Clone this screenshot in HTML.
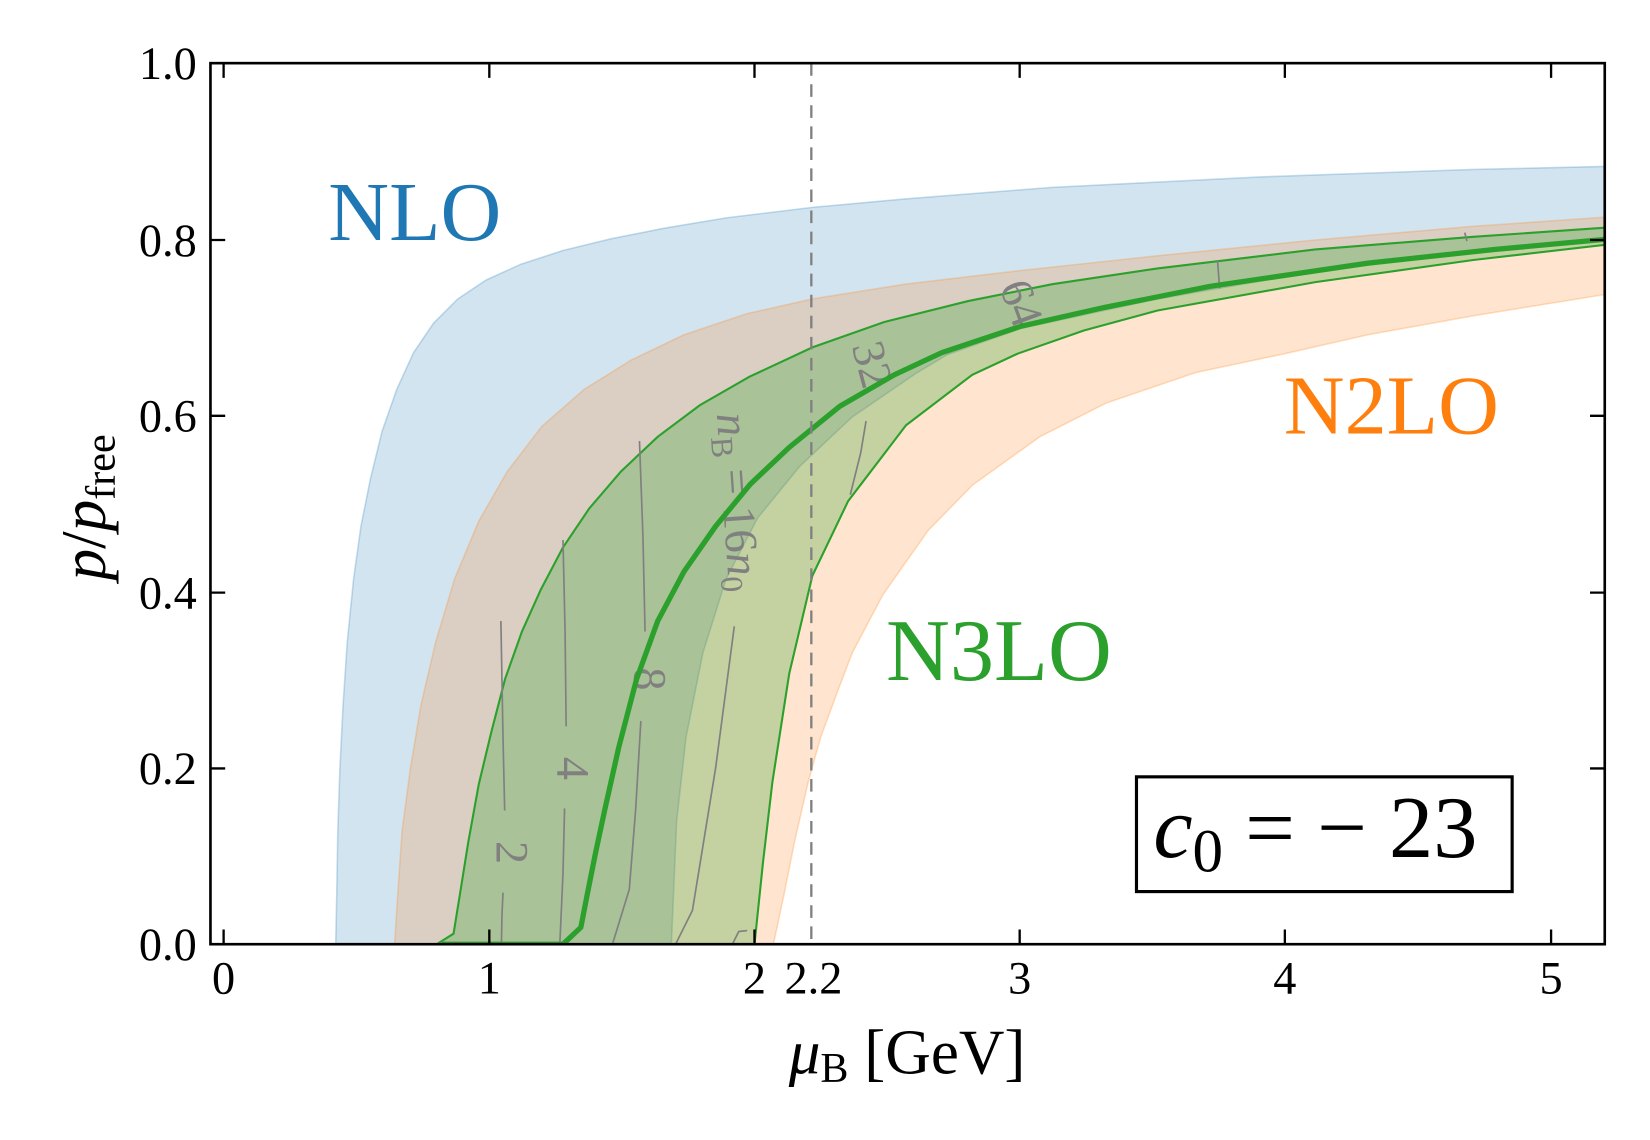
<!DOCTYPE html>
<html><head><meta charset="utf-8"><style>
html,body{margin:0;padding:0;background:#fff;}
svg{display:block;}
text{font-family:"Liberation Serif","DejaVu Serif",serif;}
</style></head><body>
<svg width="1650" height="1140" viewBox="0 0 1568 1083" preserveAspectRatio="none" xmlns="http://www.w3.org/2000/svg">
<rect x="0" y="0" width="1568" height="1083" fill="#fff"/>
<defs><clipPath id="c"><rect x="200" y="60" width="1325" height="837"/></clipPath></defs>
<g clip-path="url(#c)">
<!-- blue NLO -->
<path d="M319,897 L320,850 L321,790 L323,730 L326,670 L330,610 L336,550 L343,500 L352,455 L363,410 L377,370 L393,335 L412,307 L435,284 L462,266 L495,251 L535,238 L580,227 L630,217 L690,207 L772,197 L860,189 L1000,178 L1200,168 L1400,161 L1530,158 L1530,228 L1400,240 L1250,258 L1100,284 L970,312 L900,337 L870,355 L810,396 L760,443 L720,492 L690,550 L668,620 L652,700 L643,780 L638,897 Z" fill="rgba(31,119,180,0.2)" stroke="rgba(31,119,180,0.25)" stroke-width="1.5"/>
<!-- orange N2LO -->
<path d="M375,897 L378,850 L382,790 L390,730 L400,670 L414,610 L432,550 L455,495 L482,448 L515,405 L555,370 L600,342 L650,318 L710,298 L772,284 L860,270 L970,257 L1100,243 L1250,228 L1400,215 L1530,206 L1530,279 L1400,300 L1300,318 L1221,336 L1136,354 L1051,383 L988,415 L924,461 L882,504 L839,565 L810,620 L797,654 L780,700 L768,743 L755,800 L745,850 L735,897 Z" fill="rgba(255,127,14,0.2)" stroke="rgba(255,127,14,0.25)" stroke-width="1.5"/>
<!-- green N3LO -->
<path d="M415,897 L431,887 L437,850 L445,800 L455,745 L467,695 L480,645 L496,600 L514,560 L535,520 L560,483 L590,448 L625,415 L665,385 L712,358 L772,330 L840,306 L920,286 L1000,270 L1100,255 L1250,237 L1400,225 L1530,216 L1530,232 L1400,247 L1250,268 L1100,295 L1030,314 L967,336 L924,356 L861,404 L806,476 L772,547 L750,640 L734,743 L725,820 L717,897 Z" fill="rgba(44,160,44,0.28)" stroke="#2ca02c" stroke-width="2"/>
<!-- contours -->
<g fill="none" stroke="#808080" stroke-width="1.6">
<path d="M476,590 L478,700 L479.6,770"/><path d="M478,848 L477,870 L476.5,897"/>
<path d="M535,513 L537,600 L538,690"/><path d="M536.5,768 L535,830 L532,897"/>
<path d="M607.7,419 L611,510 L613,600"/><path d="M609,685 L604,770 L598,845 L582,897"/>
<path d="M697.8,595 L680,730 L658,865 L642,897"/>
<path d="M823,400 L818,430 L808,470"/>
<path d="M696,897 L702,885 L710,884"/>
<path d="M1157,247 L1159,274"/>
<path d="M1392,221 L1394,229"/>
</g>
<g fill="#808080" font-size="44">
<text transform="translate(472,810) rotate(90)" text-anchor="middle">2</text>
<text transform="translate(530,730) rotate(90)" text-anchor="middle">4</text>
<text transform="translate(603,645) rotate(90)" text-anchor="middle">8</text>
<text transform="translate(687,478) rotate(86)" text-anchor="middle"><tspan font-style="italic">n</tspan><tspan font-size="30" dy="7">B</tspan><tspan dy="-7"> = 16</tspan><tspan font-style="italic">n</tspan><tspan font-size="30" dy="7">0</tspan></text>
<text transform="translate(815,350) rotate(75)" text-anchor="middle">32</text>
<text transform="translate(957,293) rotate(70)" text-anchor="middle">64</text>
</g>
<!-- central line -->
<path d="M420,897 L535,897 L552,881 L558,850 L566,810 L575,768 L588,710 L605,645 L625,590 L650,543 L680,500 L713,460 L750,425 L798,386 L850,356 L895,335 L970,310 L1050,292 L1150,272 L1300,250 L1420,237 L1530,227" fill="none" stroke="#2ca02c" stroke-width="5" stroke-linejoin="round"/>
<!-- dashed -->
<line x1="771" y1="60" x2="771" y2="897" stroke="#808080" stroke-width="2.2" stroke-dasharray="12,8"/>
</g>
<!-- labels -->
<text x="312" y="228" font-size="80" fill="#1f77b4">NLO</text>
<text x="1220" y="412" font-size="80" fill="#ff7f0e">N2LO</text>
<text x="842" y="646" font-size="84" fill="#2ca02c">N3LO</text>
<rect x="1080" y="738" width="357" height="109" fill="#fff" stroke="#000" stroke-width="3"/>
<text x="1096" y="814" font-size="84"><tspan font-style="italic">c</tspan><tspan font-size="58" dy="14">0</tspan><tspan dy="-14"> = − 23</tspan></text>
<!-- axes -->
<rect x="200" y="60" width="1325" height="837" fill="none" stroke="#000" stroke-width="2.5"/>
<g stroke="#000" stroke-width="2.2">
<path d="M212.5,897 v-14 M465,897 v-14 M717,897 v-14 M969,897 v-14 M1221,897 v-14 M1474,897 v-14"/>
<path d="M212.5,60 v14 M465,60 v14 M717,60 v14 M969,60 v14 M1221,60 v14 M1474,60 v14"/>
<path d="M200,228 h14 M200,395 h14 M200,563 h14 M200,730 h14"/>
<path d="M1525,228 h-14 M1525,395 h-14 M1525,563 h-14 M1525,730 h-14"/>
</g>
<g font-size="44" text-anchor="end">
<text x="187" y="75">1.0</text>
<text x="187" y="243">0.8</text>
<text x="187" y="410">0.6</text>
<text x="187" y="578">0.4</text>
<text x="187" y="745">0.2</text>
<text x="187" y="912">0.0</text>
</g>
<g font-size="44" text-anchor="middle">
<text x="212.5" y="944">0</text>
<text x="465" y="944">1</text>
<text x="717" y="944">2</text>
<text x="773" y="944">2.2</text>
<text x="969" y="944">3</text>
<text x="1221" y="944">4</text>
<text x="1474" y="944">5</text>
</g>
<text x="862" y="1020" font-size="60" text-anchor="middle"><tspan font-style="italic">μ</tspan><tspan font-size="40" dy="8">B</tspan><tspan dy="-8"> [GeV]</tspan></text>
<text transform="translate(100,482) rotate(-90)" font-size="60" text-anchor="middle"><tspan font-style="italic">p</tspan>/<tspan font-style="italic">p</tspan><tspan font-size="40" dy="9">free</tspan></text>
</svg>
</body></html>
